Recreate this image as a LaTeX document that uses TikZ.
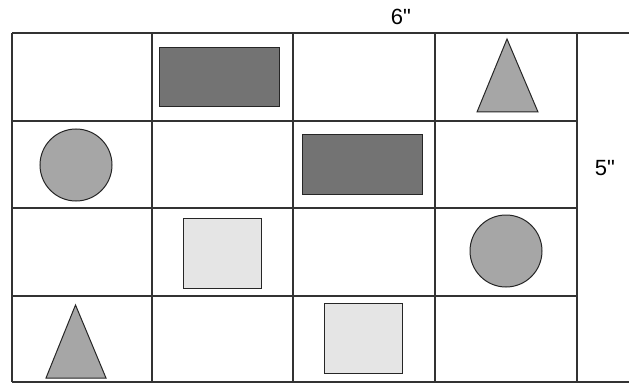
\documentclass[tikz,border=0pt]{standalone}
\usepackage{fontspec}
\setmainfont{Liberation Sans}[Ligatures=TeXOff]
\usetikzlibrary{positioning}

\begin{document}
\begin{tikzpicture}[
    x=1pt, y=-1pt,
    gline/.style={draw=black!80, line width=1.2pt},
    dkbox/.style={draw=black!85, line width=1pt, fill=black!55, inner sep=0pt,
                  minimum width=120pt, minimum height=59pt},
    ltbox/.style={draw=black!85, line width=1pt, fill=black!10, inner sep=0pt,
                  minimum width=78pt, minimum height=70pt},
    disc/.style={circle, draw=black!85, line width=1pt, fill=black!35, inner sep=0pt,
                 minimum size=72pt},
    tri/.style={draw=black!85, line width=1pt, fill=black!35, line join=miter},
    dim/.style={font=\fontsize{22}{24}\selectfont, inner sep=0pt}
  ]
    \useasboundingbox (0,0) rectangle (629,385);
    % ---- grid ----
    \draw[gline] (12,33) -- (629,33);
    \draw[gline] (12,382) -- (629,382);
    \foreach \y in {121,208,296} \draw[gline] (12,\y) -- (577,\y);
    \foreach \x in {12,152,293,435,577} \draw[gline] (\x,33) -- (\x,382);
    % ---- dark boxes ----
    \node[dkbox] (rectA) at (219,77.5) {};
    \node[dkbox] (rectB) at (362.5,164.5) {};
    % ---- light squares ----
    \node[ltbox] (sqA) at (222.5,253.5) {};
    \node[ltbox] (sqB) at (363,338) {};
    % ---- circles ----
    \node[disc] (discA) at (76,165) {};
    \node[disc] (discB) at (506,251) {};
    % ---- triangles ----
    \draw[tri] (507,39) -- (538,112) -- (477,112) -- cycle;
    \draw[tri] (75.5,305) -- (106,378) -- (46,378) -- cycle;
    % ---- dimensions ----
    \node[dim] (lenW) at (401,17) {6"};
    \node[dim] (lenH) at (605,168) {5"};
  \end{tikzpicture}
\end{document}
